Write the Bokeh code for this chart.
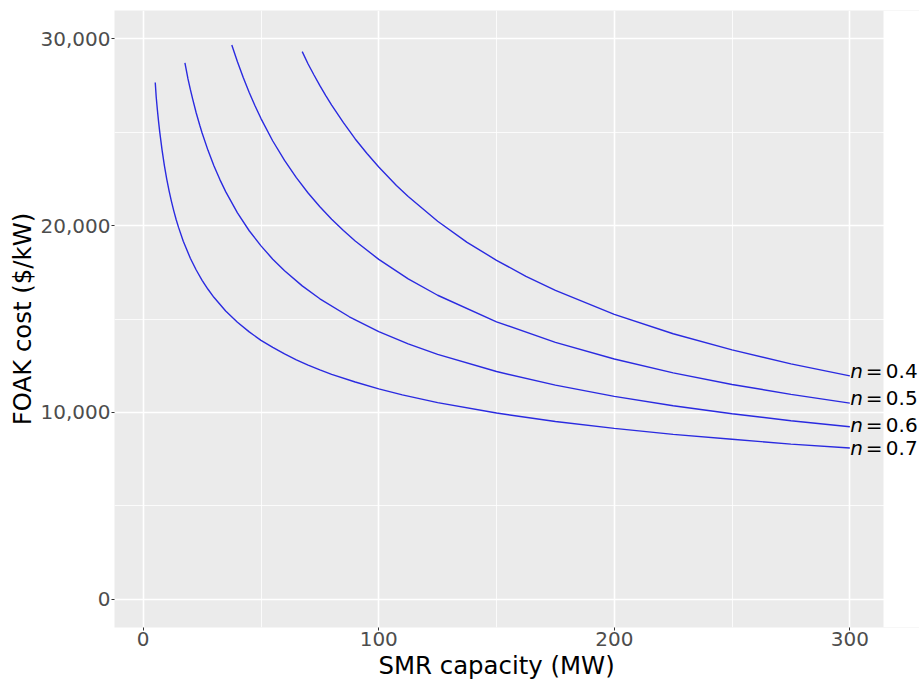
from bokeh.plotting import figure
from bokeh.models import FixedTicker, NumeralTickFormatter, Label, Range1d, BoxAnnotation, Title
from bokeh.embed import file_html
from bokeh.resources import INLINE

# ---- data ----
cap_n04 = [67.5, 70, 72.5, 75, 77.5, 80, 85, 90, 95, 100, 107.5, 112.5, 125, 137.5, 150, 162.5, 175, 200, 225, 250, 275, 300]
cost_n04 = [29300, 28640, 28050, 27480, 26950, 26440, 25500, 24630, 23850, 23130, 22140, 21550, 20230, 19100, 18140, 17280, 16530, 15250, 14210, 13350, 12600, 11960]

cap_n05 = [37.6, 40, 42.5, 45, 47.5, 50, 55, 60, 65, 70, 75, 80, 85, 90, 100, 112.5, 125, 150, 175, 200, 225, 250, 275, 300]
cost_n05 = [29650, 28760, 27900, 27110, 26390, 25720, 24520, 23480, 22560, 21740, 21000, 20330, 19730, 19170, 18190, 17150, 16270, 14850, 13750, 12860, 12120, 11500, 10970, 10500]

cap_n06 = [17.7, 19, 20, 21, 22.5, 24, 25, 27.5, 30, 32.5, 35, 40, 45, 50, 55, 60, 67.5, 75, 87.5, 100, 112.5, 125, 150, 175, 200, 225, 250, 275, 300]
cost_n06 = [28700, 27840, 27280, 26760, 26020, 25360, 24950, 24020, 23200, 22470, 21810, 20680, 19720, 18910, 18200, 17580, 16770, 16080, 15120, 14330, 13670, 13110, 12190, 11460, 10860, 10360, 9930, 9560, 9235]

cap_n07 = [5.1, 5.5, 6, 6.5, 7, 8, 9, 10, 11, 12, 13, 14, 15, 17, 20, 22.5, 25, 27.5, 30, 35, 40, 45, 50, 55, 60, 65, 70, 75, 80, 90, 100, 110, 125, 150, 175, 200, 225, 250, 275, 300]
cost_n07 = [27650, 26890, 26190, 25570, 25010, 24030, 23190, 22470, 21840, 21280, 20770, 20310, 19900, 19160, 18250, 17620, 17070, 16590, 16160, 15430, 14830, 14310, 13860, 13480, 13130, 12810, 12530, 12280, 12040, 11630, 11260, 10940, 10530, 9970, 9520, 9150, 8830, 8570, 8310, 8100]

n_values = ["0.4", "0.5", "0.6", "0.7"]
x_ticks = [0, 100, 200, 300]
x_minor = [50, 150, 250]
y_ticks = [0, 10000, 20000, 30000]
y_minor = [5000, 15000, 25000]

series = [(cap_n04, cost_n04), (cap_n05, cost_n05), (cap_n06, cost_n06), (cap_n07, cost_n07)]

# ---- style ----
FONT = "DejaVu Sans"
label_nudge_px = [5, 5, 1.5, 0]
PANEL_RIGHT = 314.3   # data x where the grey panel ends

p = figure(width=919, height=681, output_backend="svg", toolbar_location=None,
           x_range=Range1d(-12.2, 329.58), y_range=Range1d(-1500, 31500),
           min_border_left=114, min_border_right=0, min_border_top=10, min_border_bottom=54,
           background_fill_color="#EBEBEB", border_fill_color="white", outline_line_color=None)

p.xaxis.ticker = FixedTicker(ticks=x_ticks, minor_ticks=x_minor)
p.yaxis.ticker = FixedTicker(ticks=y_ticks, minor_ticks=y_minor)
p.yaxis.formatter = NumeralTickFormatter(format="0,0")

for ax in (p.xaxis, p.yaxis):
    ax.axis_line_color = None
    ax.major_tick_line_color = "#333333"
    ax.major_tick_line_width = 1
    ax.major_tick_out = 3
    ax.major_tick_in = 0
    ax.minor_tick_out = 0
    ax.minor_tick_in = 0
    ax.major_label_text_font = FONT
    ax.major_label_text_font_size = "20px"
    ax.major_label_text_color = "#4D4D4D"
    ax.major_label_standoff = 1
    ax.axis_label_text_font = FONT
    ax.axis_label_text_font_size = "24.4px"
    ax.axis_label_text_font_style = "normal"
    ax.axis_label_text_color = "black"
    ax.axis_label_standoff = 1

p.yaxis.axis_label = "FOAK cost ($/kW)"
p.add_layout(Title(text="SMR capacity (MW)", align="left", offset=264, standoff=0,
                   text_font=FONT, text_font_size="24.4px", text_font_style="normal",
                   text_color="black"), "below")

for g in (p.xgrid, p.ygrid):
    g.grid_line_color = "white"
    g.grid_line_width = 1.6
    g.minor_grid_line_color = "white"
    g.minor_grid_line_width = 0.8

# white area to the right of the grey panel (room for the labels)
p.add_layout(BoxAnnotation(left=PANEL_RIGHT, fill_color="white", fill_alpha=1.0,
                           line_color=None, level="underlay"))

for (xs, ys), nv, nud in zip(series, n_values, label_nudge_px):
    p.line(xs, ys, line_color="#2a2ae0", line_width=1.4)
    common = dict(x=xs[-1], y=ys[-1], y_offset=nud, text_font=FONT, text_font_size="20px",
                  text_baseline="middle", text_align="left", text_color="black")
    p.add_layout(Label(text="n", x_offset=0.5, text_font_style="italic", **common))
    p.add_layout(Label(text="=", x_offset=16, **common))
    p.add_layout(Label(text=nv, x_offset=36, **common))

open("out.html", "w").write(file_html(p, INLINE))
